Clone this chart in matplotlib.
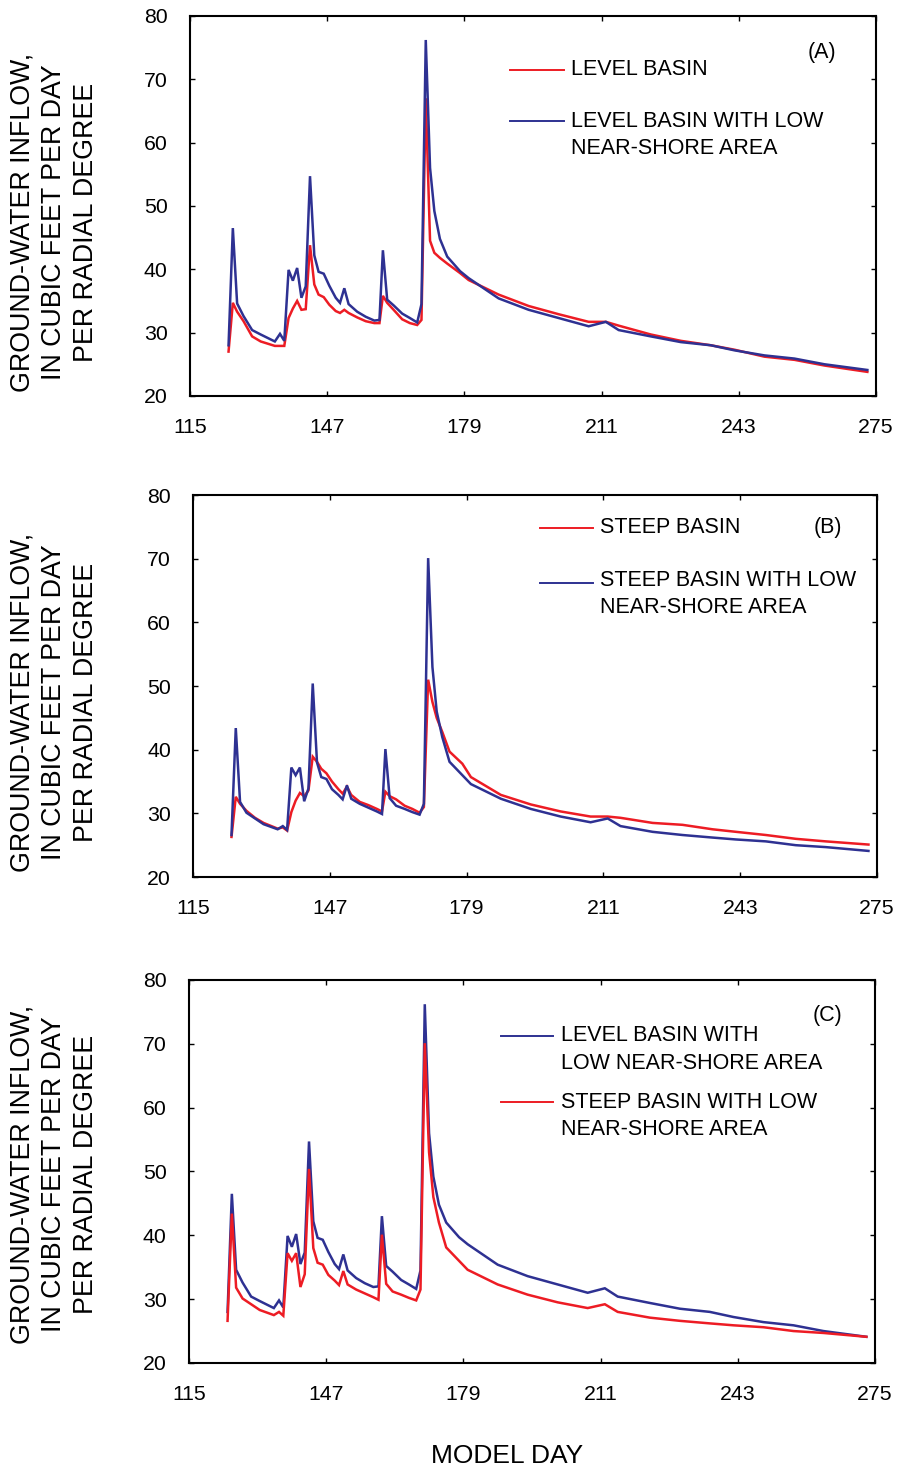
import matplotlib.pyplot as plt

plt.rcParams['font.family'] = ['Liberation Sans', 'DejaVu Sans']

RED = '#ed1c24'
BLUE = '#2e3192'

# model days (shared by all runs)
days = [124, 125, 126, 127.5, 129.5, 131.5, 134.8, 136, 137, 138, 139, 140, 141, 142,
        143, 144, 145, 146.2, 147.5, 149, 150, 151, 152, 154, 156, 158, 159.2, 160,
        161, 162.5, 164.5, 166.3, 168, 169, 170, 171, 172, 173.3, 175, 178, 180, 187,
        194, 201, 208, 212, 215, 222.5, 229.5, 236.5, 242, 249, 256, 263, 273]

# ground-water inflow, cubic feet per day per radial degree
level = [27.0, 34.7, 33.3, 31.8, 29.4, 28.6, 27.9, 27.9, 27.9, 32.3, 33.8, 35.0, 33.6, 33.7,
         43.8, 37.6, 36.0, 35.6, 34.4, 33.4, 33.1, 33.6, 33.1, 32.4, 31.8, 31.5, 31.5, 35.8,
         34.7, 33.6, 32.1, 31.5, 31.2, 32.0, 67.0, 44.5, 42.6, 41.8, 40.9, 39.4, 38.3, 36.0,
         34.2, 32.9, 31.7, 31.7, 31.1, 29.7, 28.7, 28.0, 27.3, 26.2, 25.7, 24.8, 23.8]
level_low = [28.0, 46.5, 34.6, 32.6, 30.4, 29.7, 28.6, 29.8, 28.7, 39.9, 38.2, 40.2, 35.5, 37.3,
             54.7, 42.2, 39.6, 39.3, 37.4, 35.5, 34.7, 37.0, 34.5, 33.3, 32.5, 31.9, 32.0, 43.0,
             35.2, 34.3, 33.0, 32.3, 31.6, 34.5, 76.2, 56.0, 49.2, 44.8, 42.0, 39.7, 38.6, 35.4,
             33.6, 32.3, 31.0, 31.7, 30.4, 29.4, 28.5, 28.0, 27.2, 26.4, 25.9, 25.0, 24.1]
steep = [26.3, 32.6, 31.5, 30.4, 29.3, 28.5, 27.6, 27.8, 27.3, 30.2, 32.0, 33.2, 32.7, 33.6,
         38.9, 38.1, 37.0, 36.3, 35.0, 33.8, 33.1, 34.2, 32.9, 31.8, 31.3, 30.7, 30.3, 33.4,
         32.7, 32.2, 31.2, 30.7, 30.1, 31.0, 51.0, 47.5, 45.0, 42.8, 39.7, 37.8, 35.7, 32.9,
         31.4, 30.3, 29.5, 29.5, 29.3, 28.5, 28.2, 27.5, 27.1, 26.6, 26.0, 25.6, 25.1]
steep_low = [26.6, 43.4, 31.8, 30.1, 29.2, 28.3, 27.5, 28.0, 27.4, 37.2, 36.0, 37.2, 31.9, 33.9,
             50.4, 38.0, 35.7, 35.4, 33.8, 32.9, 32.2, 34.4, 32.3, 31.5, 30.9, 30.3, 29.9, 40.1,
             32.4, 31.2, 30.7, 30.2, 29.8, 31.5, 70.1, 53.0, 46.0, 42.0, 38.1, 36.0, 34.6, 32.3,
             30.7, 29.5, 28.6, 29.2, 28.0, 27.1, 26.6, 26.2, 25.9, 25.6, 25.0, 24.7, 24.1]

x_ticks = [115, 147, 179, 211, 243, 275]
y_ticks = [20, 30, 40, 50, 60, 70, 80]
ylabel = "GROUND-WATER INFLOW,\nIN CUBIC FEET PER DAY\nPER RADIAL DEGREE"

panels = [
    dict(rect=[0.2106, 0.7312, 0.7605, 0.2580], tag="(A)", tag_xy=(0.921, 0.903), label_y=0.849,
         series=[(level, RED), (level_low, BLUE)],
         legend=[(RED, "LEVEL BASIN", 0.4665, 0.5452, 0.858, 0.858),
                 (BLUE, "LEVEL BASIN WITH LOW\nNEAR-SHORE AREA", 0.4665, 0.5452, 0.724, 0.687)],
         text_x=0.5554),
    dict(rect=[0.2140, 0.4046, 0.7583, 0.2593], tag="(B)", tag_xy=(0.928, 0.916), label_y=0.523,
         series=[(steep, RED), (steep_low, BLUE)],
         legend=[(RED, "STEEP BASIN", 0.5073, 0.5848, 0.914, 0.914),
                 (BLUE, "STEEP BASIN WITH LOW\nNEAR-SHORE AREA", 0.5073, 0.5848, 0.770, 0.742)],
         text_x=0.595),
    dict(rect=[0.2095, 0.0747, 0.7605, 0.2600], tag="(C)", tag_xy=(0.931, 0.906), label_y=0.203,
         series=[(level_low, BLUE), (steep_low, RED)],
         legend=[(BLUE, "LEVEL BASIN WITH\nLOW NEAR-SHORE AREA", 0.4548, 0.5306, 0.854, 0.8185),
                 (RED, "STEEP BASIN WITH LOW\nNEAR-SHORE AREA", 0.4548, 0.5306, 0.6815, 0.645)],
         text_x=0.5423),
]

fig = plt.figure(figsize=(9.02, 14.73), dpi=100)

for p in panels:
    ax = fig.add_axes(p['rect'])
    for vals, color in p['series']:
        ax.plot(days, vals, color=color, lw=1.8, solid_joinstyle='miter')
    ax.set_xlim(115, 275)
    ax.set_ylim(20, 80)
    ax.set_xticks(x_ticks)
    ax.set_yticks(y_ticks)
    ax.tick_params(direction='in', top=True, right=True, length=3.5, width=1,
                   labelsize=15.3, pad=16)
    for s in ax.spines.values():
        s.set_linewidth(1.5)
    # key
    for color, label, x0, x1, yh, yt in p['legend']:
        ax.plot([x0, x1], [yh, yh], color=color, lw=1.4, transform=ax.transAxes)
        ax.text(p['text_x'], yt, label, transform=ax.transAxes, fontsize=15.5,
                ha='left', va='center', linespacing=1.38)
    ax.text(*p['tag_xy'], p['tag'], transform=ax.transAxes, fontsize=15.5,
            ha='center', va='center')
    fig.text(0.0604, p['label_y'], ylabel, rotation=90, ha='center', va='center',
             multialignment='center', fontsize=19.3, linespacing=1.28)

fig.text(0.562, 0.0115, "MODEL DAY", ha='center', va='center', fontsize=19)

fig.savefig("out.png", dpi=100)
